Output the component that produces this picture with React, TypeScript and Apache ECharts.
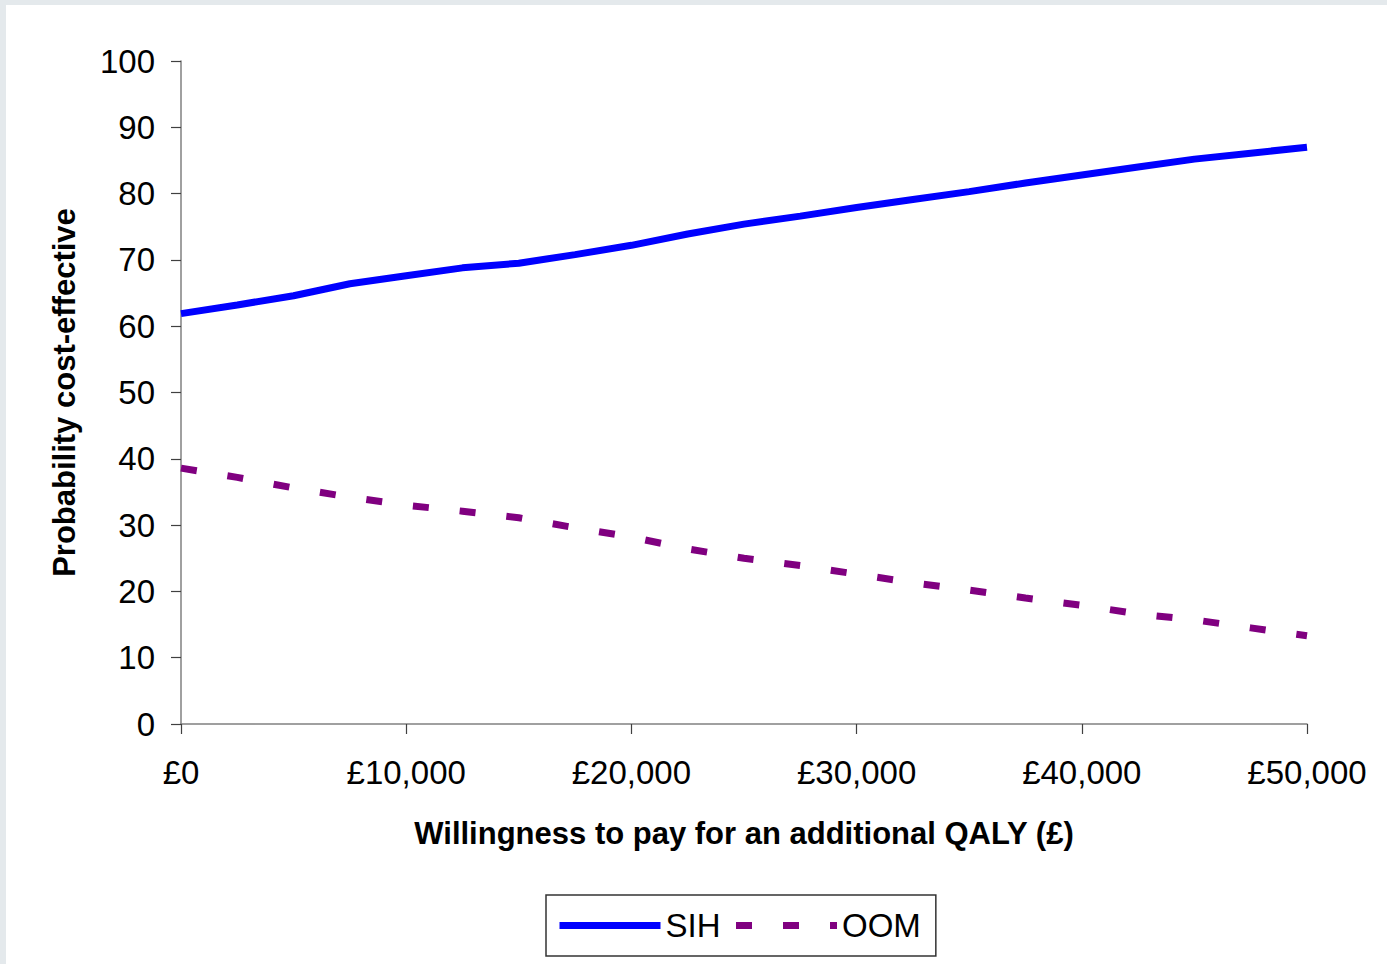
import React, { useEffect, useRef } from "react";
import * as echarts from "echarts";

const wtp = [0, 2500, 5000, 7500, 10000, 12500, 15000, 17500, 20000, 22500, 25000, 27500, 30000, 32500, 35000, 37500, 40000, 42500, 45000, 47500, 50000];
const sihValues = [61.9, 63.2, 64.6, 66.4, 67.6, 68.8, 69.5, 70.8, 72.2, 73.9, 75.4, 76.6, 77.9, 79.1, 80.3, 81.6, 82.8, 84.0, 85.2, 86.1, 87.0];
const oomValues = [38.6, 37.2, 35.6, 34.2, 33.0, 32.1, 31.1, 29.6, 28.2, 26.4, 25.0, 23.9, 22.6, 21.3, 20.2, 19.0, 17.9, 16.6, 15.7, 14.5, 13.3];
const seriesNames = ["SIH", "OOM"];
const xAxisTitle = "Willingness to pay for an additional QALY (£)";
const yAxisTitle = "Probability cost-effective";

const FONT = "'Liberation Sans', Arial, sans-serif";

function fmtPounds(v: number): string {
  const s = Math.round(v).toString().replace(/\B(?=(\d{3})+(?!\d))/g, ",");
  return "£" + s;
}

export default function App() {
  const ref = useRef<HTMLDivElement>(null);
  useEffect(() => {
    document.body.style.margin = "0";
    if (!ref.current) return;
    const chart = echarts.init(ref.current, undefined, { renderer: "svg" });
    chart.setOption({
      animation: false,
      backgroundColor: "#ffffff",
      textStyle: { fontFamily: FONT },
      grid: { left: 175, right: 80, top: 56, bottom: 240 },
      legend: {
        left: 540,
        top: 890,
        orient: "horizontal",
        itemWidth: 101,
        itemHeight: 14,
        itemGap: 12,
        padding: [14, 15, 14, 10],
        borderColor: "#333333",
        borderWidth: 1.5,
        itemStyle: { opacity: 0, borderWidth: 0 },
        lineStyle: { width: 7 },
        textStyle: { fontSize: 33, color: "#000", fontFamily: FONT, padding: [0, 0, 0, 0] },
        data: seriesNames,
      },
      xAxis: {
        type: "value",
        min: 0,
        max: 50000,
        interval: 10000,
        name: xAxisTitle,
        nameLocation: "middle",
        nameGap: 94,
        nameTextStyle: { fontSize: 31, fontWeight: "bold", color: "#000", fontFamily: FONT },
        axisLine: { show: true, lineStyle: { color: "#808080", width: 1.5 } },
        axisTick: { show: true, length: 10, lineStyle: { color: "#404040", width: 1.2 } },
        axisLabel: { fontSize: 33, color: "#000", margin: 32, formatter: (v: number) => fmtPounds(v), fontFamily: FONT },
        splitLine: { show: false },
      },
      yAxis: {
        type: "value",
        min: 0,
        max: 100,
        interval: 10,
        name: yAxisTitle,
        nameLocation: "middle",
        nameGap: 101,
        nameRotate: 90,
        nameTextStyle: { fontSize: 31, fontWeight: "bold", color: "#000", fontFamily: FONT },
        axisLine: { show: true, lineStyle: { color: "#808080", width: 1.5 } },
        axisTick: { show: true, length: 10, lineStyle: { color: "#404040", width: 1.2 } },
        axisLabel: { fontSize: 33, color: "#000", margin: 26, fontFamily: FONT },
        splitLine: { show: false },
      },
      series: [
        {
          name: seriesNames[0],
          type: "line",
          data: wtp.map((x, i) => [x, sihValues[i]]),
          showSymbol: false,
          symbol: "none",
          lineStyle: { color: "#0000ff", width: 7, cap: "butt" },
          itemStyle: { color: "#0000ff" },
        },
        {
          name: seriesNames[1],
          type: "line",
          data: wtp.map((x, i) => [x, oomValues[i]]),
          showSymbol: false,
          symbol: "none",
          lineStyle: { color: "#800080", width: 7, type: [16, 31], cap: "butt" },
          itemStyle: { color: "#800080" },
        },
      ],
    });
    return () => chart.dispose();
  }, []);
  return (
    <div style={{ width: 1387, height: 964, background: "#e4e9ec", position: "relative", overflow: "hidden" }}>
      <div
        ref={ref}
        style={{ position: "absolute", left: 6, top: 5, width: 1381, height: 959 }}
      />
    </div>
  );
}
